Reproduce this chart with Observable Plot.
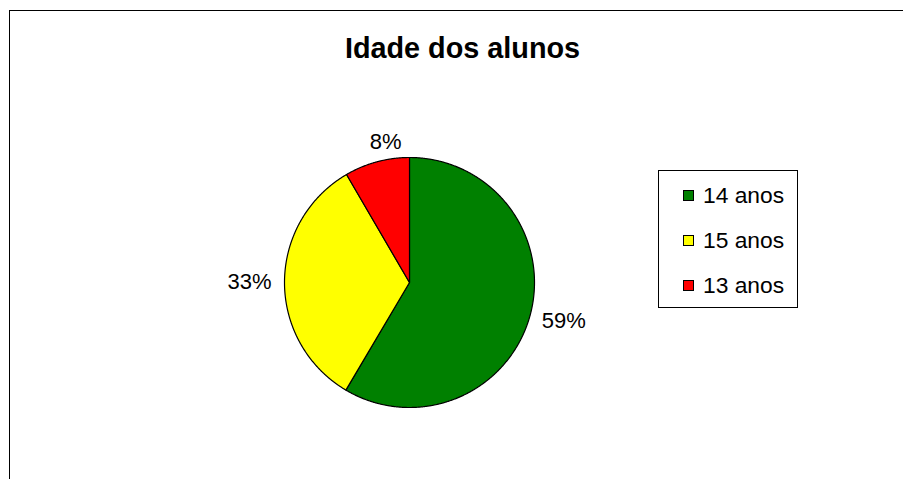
<!DOCTYPE html>
<html>
<head>
<meta charset="utf-8">
<script src="https://cdn.jsdelivr.net/npm/d3@7"></script>
<script src="https://cdn.jsdelivr.net/npm/@observablehq/plot@0.6"></script>
<style>
  html, body { margin: 0; padding: 0; background: #fff; }
  #wrap { position: relative; width: 903px; height: 479px; overflow: hidden; font-family: "Liberation Sans", Arial, sans-serif; }
  #chart { position: absolute; left: 0; top: 0; }
  #frame { position: absolute; left: 9px; top: 10px; width: 1000px; height: 1000px; border: 1.6px solid #000; box-sizing: border-box; pointer-events: none; }
  #title { position: absolute; left: 0; width: 925px; top: 30px; text-align: center; font-weight: bold; font-size: 28.8px; line-height: 36px; color: #000; }
  #legend { position: absolute; left: 658px; top: 170px; width: 140px; height: 138px; border: 1px solid #000; box-sizing: border-box; background: #fff; }
  .item { position: absolute; left: 0; height: 30px; display: flex; align-items: center; font-size: 22.8px; color: #000; }
  .sw { width: 11px; height: 11px; border: 1px solid #000; box-sizing: border-box; margin-left: 24px; margin-right: 9px; }
</style>
</head>
<body>
<div id="wrap">
  <div id="chart"></div>
  <div id="frame"></div>
  <div id="title">Idade dos alunos</div>
  <div id="legend"></div>
</div>
<script>
const categories = ["14 anos", "15 anos", "13 anos"];
const values = [58.5, 33.1, 8.4];
const labels = ["59%", "33%", "8%"];
const colors = ["#008000", "#FFFF00", "#FF0000"];

const arcs = d3.pie().sort(null)(values);

// polygon points for each slice (angle 0 at 12 o'clock, clockwise)
const points = [];
arcs.forEach((a, i) => {
  points.push({cat: categories[i], x: 0, y: 0});
  const n = Math.max(2, Math.ceil((a.endAngle - a.startAngle) / 0.005));
  for (let k = 0; k <= n; k++) {
    const t = a.startAngle + (a.endAngle - a.startAngle) * k / n;
    points.push({cat: categories[i], x: Math.sin(t), y: Math.cos(t)});
  }
});

// label positions derived from the slice mid-angles
const R = 125, gap = 13, fs = 22;
const labelData = arcs.map((a, i) => {
  const m = (a.startAngle + a.endAngle) / 2;
  const dx = Math.sin(m), dy = Math.cos(m);
  const w = fs * (0.556 * (labels[i].length - 1) + 0.889);
  const h = fs * 0.72;
  // horizontal spread reduced near the vertical axis (labels sit closer to the top/bottom)
  const hx = Math.abs(dy) > 0.9 ? dx * 0.55 : dx;
  return {
    text: labels[i],
    x: hx * (R + gap) / R + dx * (w / 2) / R,
    y: dy * (R + gap) / R + dy * (h / 2) / R
  };
});

const plot = Plot.plot({
  width: 903,
  height: 479,
  marginLeft: 284,
  marginRight: 369,
  marginTop: 157,
  marginBottom: 72,
  x: {domain: [-1, 1], axis: null},
  y: {domain: [-1, 1], axis: null},
  color: {domain: categories, range: colors},
  style: {background: "transparent", fontFamily: "'Liberation Sans', Arial, sans-serif", overflow: "visible"},
  marks: [
    Plot.line(points, {x: "x", y: "y", z: "cat", fill: "cat", stroke: "#000", strokeWidth: 1.2, curve: "linear-closed"}),
    Plot.text(labelData, {x: "x", y: "y", text: "text", fontSize: fs, fill: "#000"})
  ]
});
document.getElementById("chart").appendChild(plot);

const legend = document.getElementById("legend");
categories.forEach((c, i) => {
  const item = document.createElement("div");
  item.className = "item";
  item.style.top = (9 + i * 45) + "px";
  const sw = document.createElement("div");
  sw.className = "sw";
  sw.style.background = colors[i];
  const tx = document.createElement("span");
  tx.textContent = c;
  item.appendChild(sw);
  item.appendChild(tx);
  legend.appendChild(item);
});
</script>
</body>
</html>
